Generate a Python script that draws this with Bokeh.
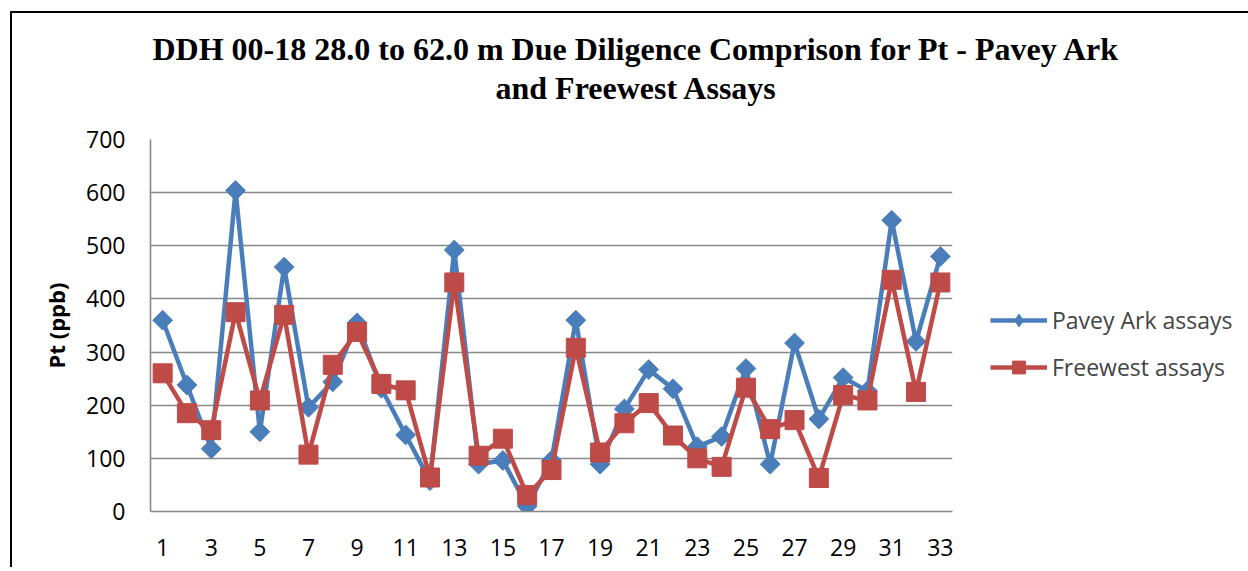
from bokeh.plotting import figure
from bokeh.models import Range1d, FixedTicker, Legend, LegendItem, Title
from bokeh.embed import file_html
from bokeh.resources import INLINE
import math

# ---- data ----
samples = list(range(1, 34))
pavey_ark = [360, 238, 118, 604, 150, 460, 196, 244, 355, 232, 144, 58, 492, 89, 96,
             10, 96, 360, 89, 193, 267, 231, 122, 141, 269, 89, 317, 174, 252, 227,
             548, 320, 480]
freewest = [260, 185, 153, 375, 209, 370, 107, 276, 338, 240, 228, 64, 431, 105, 137,
            31, 78, 308, 111, 166, 204, 143, 100, 84, 233, 155, 172, 63, 219, 209,
            436, 225, 431]
y_ticks = [0, 100, 200, 300, 400, 500, 600, 700]
x_ticks = [1, 3, 5, 7, 9, 11, 13, 15, 17, 19, 21, 23, 25, 27, 29, 31, 33]
title_lines = ["DDH 00-18 28.0 to 62.0 m Due Diligence Comprison for Pt  - Pavey Ark",
               "and Freewest Assays"]
series_names = ["Pavey Ark assays", "Freewest assays"]
y_label = "Pt (ppb)"

BLUE = "#4A7EBB"
RED = "#BE4B48"
GRID = "#888888"
TICK_FONT = "Open Sans"

p = figure(
    output_backend="svg", toolbar_location=None,
    frame_width=802, frame_height=372,
    min_border_left=138, min_border_top=126, min_border_bottom=56, min_border_right=284,
    x_range=Range1d(0.5, 33.5), y_range=Range1d(0, 700),
    styles={"border-left": "2px solid black", "border-top": "2px solid black",
            "margin-left": "10px", "margin-top": "11px"},
)
p.outline_line_color = None
p.background_fill_color = "white"
p.border_fill_color = "white"

# grid
p.xgrid.grid_line_color = None
p.ygrid.ticker = FixedTicker(ticks=y_ticks)
p.ygrid.grid_line_color = GRID
p.ygrid.grid_line_width = 1.6

# axes
for ax in (p.xaxis[0], p.yaxis[0]):
    ax.axis_line_color = GRID
    ax.axis_line_width = 1.6
    ax.major_tick_line_color = None
    ax.minor_tick_line_color = None
    ax.major_tick_in = 0
    ax.major_tick_out = 0
    ax.minor_tick_out = 0
    ax.major_label_text_font = TICK_FONT
    ax.major_label_text_font_size = "23px"
    ax.major_label_text_color = "black"
p.yaxis[0].ticker = FixedTicker(ticks=y_ticks)
p.xaxis[0].ticker = FixedTicker(ticks=x_ticks)
p.yaxis[0].major_label_standoff = 25
p.xaxis[0].major_label_standoff = 27
p.yaxis[0].axis_label = y_label
p.yaxis[0].axis_label_text_font = TICK_FONT
p.yaxis[0].axis_label_text_font_style = "bold"
p.yaxis[0].axis_label_text_font_size = "22px"
p.yaxis[0].axis_label_text_color = "black"
p.yaxis[0].axis_label_standoff = 12

# series (small markers underneath are the legend's glyphs; hidden by the big ones)
l1 = p.line(samples, pavey_ark, line_color=BLUE, line_width=4.5)
k1 = p.scatter(samples, pavey_ark, marker="diamond", size=17,
               fill_color=BLUE, line_color=BLUE)
m1 = p.scatter(samples, pavey_ark, marker="square", size=14, angle=math.pi / 4,
               fill_color=BLUE, line_color=BLUE)
l2 = p.line(samples, freewest, line_color=RED, line_width=4.5)
k2 = p.scatter(samples, freewest, marker="square", size=13,
               fill_color=RED, line_color=RED)
m2 = p.scatter(samples, freewest, marker="square", size=19,
               fill_color=RED, line_color=RED)

legend = Legend(
    items=[LegendItem(label=series_names[0], renderers=[l1, k1]),
           LegendItem(label=series_names[1], renderers=[l2, k2])],
    location=(38, 128),
    label_text_font=TICK_FONT, label_text_font_size="23px",
    glyph_width=57, glyph_height=32, label_height=32, spacing=15,
    label_standoff=5, padding=0, margin=0,
    border_line_color=None, background_fill_alpha=0,
)
p.add_layout(legend, "right")

# title: two lines, nearest-to-frame line added first
p.add_layout(Title(text=title_lines[1], align="left", offset=345,
                   text_font="Liberation Serif", text_font_style="bold",
                   text_font_size="32px", text_color="black", standoff=67), "above")
p.add_layout(Title(text=title_lines[0], align="left", offset=2,
                   text_font="Liberation Serif", text_font_style="bold",
                   text_font_size="32px", text_color="black", standoff=-65), "above")

open("out.html", "w").write(file_html(p, INLINE))
